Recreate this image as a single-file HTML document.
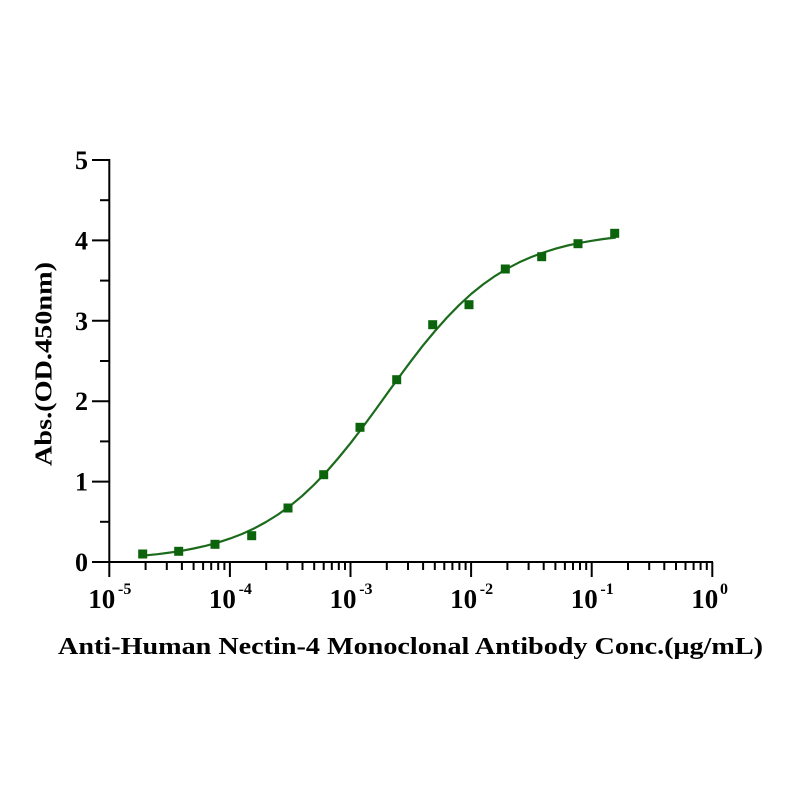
<!DOCTYPE html>
<html>
<head>
<meta charset="utf-8">
<style>
html,body{margin:0;padding:0;background:#fff;}
svg{display:block;}
text{font-family:"Liberation Serif","Times New Roman",serif;font-weight:bold;fill:#000;}
</style>
</head>
<body>
<svg width="796" height="796" viewBox="0 0 796 796" xmlns="http://www.w3.org/2000/svg">
<rect width="796" height="796" fill="#fff"/>
<!-- axes -->
<g stroke="#000" stroke-width="2" fill="none">
  <line x1="109.3" y1="159" x2="109.3" y2="563"/>
  <line x1="92" y1="562" x2="713" y2="562"/>
  <!-- y major ticks -->
  <line x1="92" y1="160" x2="109.3" y2="160"/>
  <line x1="92" y1="240.4" x2="109.3" y2="240.4"/>
  <line x1="92" y1="320.8" x2="109.3" y2="320.8"/>
  <line x1="92" y1="401.2" x2="109.3" y2="401.2"/>
  <line x1="92" y1="481.6" x2="109.3" y2="481.6"/>
  <!-- y minor ticks -->
  <line x1="100" y1="200.2" x2="109.3" y2="200.2"/>
  <line x1="100" y1="280.6" x2="109.3" y2="280.6"/>
  <line x1="100" y1="361" x2="109.3" y2="361"/>
  <line x1="100" y1="441.4" x2="109.3" y2="441.4"/>
  <line x1="100" y1="521.8" x2="109.3" y2="521.8"/>
  <!-- x major ticks -->
  <line x1="109.3" y1="562" x2="109.3" y2="577"/>
  <line x1="229.9" y1="562" x2="229.9" y2="577"/>
  <line x1="350.5" y1="562" x2="350.5" y2="577"/>
  <line x1="471.1" y1="562" x2="471.1" y2="577"/>
  <line x1="591.7" y1="562" x2="591.7" y2="577"/>
  <line x1="712.3" y1="562" x2="712.3" y2="577"/>
</g>
<g stroke="#000" stroke-width="2" fill="none" id="minor">
  <!-- decade offsets: log2..log9 * 120.6 = 36.3,57.5,72.6,84.3,93.8,101.9,108.9,115.1 -->
  <path d="M145.6 562v8M166.8 562v8M181.9 562v8M193.6 562v8M203.1 562v8M211.2 562v8M218.2 562v8M224.4 562v8
           M266.2 562v8M287.4 562v8M302.5 562v8M314.2 562v8M323.7 562v8M331.8 562v8M338.8 562v8M345 562v8
           M386.8 562v8M408 562v8M423.1 562v8M434.8 562v8M444.3 562v8M452.4 562v8M459.4 562v8M465.6 562v8
           M507.4 562v8M528.6 562v8M543.7 562v8M555.4 562v8M564.9 562v8M573 562v8M580 562v8M586.2 562v8
           M628 562v8M649.2 562v8M664.3 562v8M676 562v8M685.5 562v8M693.6 562v8M700.6 562v8M706.8 562v8"/>
</g>
<!-- y tick labels -->
<g font-size="26" text-anchor="end">
  <text x="88" y="169">5</text>
  <text x="88" y="249.4">4</text>
  <text x="88" y="329.8">3</text>
  <text x="88" y="410.2">2</text>
  <text x="88" y="490.6">1</text>
  <text x="88" y="571">0</text>
</g>
<!-- x tick labels -->
<g font-size="27">
  <text x="115.3" y="608" text-anchor="end">10</text><text x="118" y="594" font-size="16">-5</text>
  <text x="235.9" y="608" text-anchor="end">10</text><text x="238.6" y="594" font-size="16">-4</text>
  <text x="356.5" y="608" text-anchor="end">10</text><text x="359.2" y="594" font-size="16">-3</text>
  <text x="477.1" y="608" text-anchor="end">10</text><text x="479.8" y="594" font-size="16">-2</text>
  <text x="597.7" y="608" text-anchor="end">10</text><text x="600.4" y="594" font-size="16">-1</text>
  <text x="718.3" y="608" text-anchor="end">10</text><text x="720" y="594" font-size="16">0</text>
</g>
<!-- axis titles -->
<text x="58" y="654" font-size="24" textLength="705" lengthAdjust="spacingAndGlyphs">Anti-Human Nectin-4 Monoclonal Antibody Conc.(μg/mL)</text>
<text transform="translate(51.5,466) rotate(-90)" x="0" y="0" font-size="24" textLength="204" lengthAdjust="spacingAndGlyphs">Abs.(OD.450nm)</text>
<!-- fitted curve -->
<polyline fill="none" stroke="#1c6b1c" stroke-width="2.2" stroke-linejoin="round" stroke-linecap="round"
 points="142.7,555.7 157.5,554.2 169.6,552.6 181.7,550.8 193.7,548.5 205.8,545.8 217.8,542.6 229.9,538.6 242,534 254,528.5 266,522 278.1,514.5 290.2,505.8 302.3,495.8 314.3,484.5 326.4,471.9 338.4,458 350.5,443.2 362.5,427.5 374.6,411 386.6,394.3 398.7,377.6 410.8,361.3 422.9,345.6 435,331 447,317.5 459,305.2 471.1,294 483.1,284.4 495.2,275.9 507.2,268.6 519.3,262.3 531.4,257 543.5,252.5 555.5,248.7 567.6,245.5 579.6,242.9 591.7,240.8 603.4,239 615.1,237.6"/>
<!-- data points -->
<g fill="#0b630b">
  <rect x="138.2" y="549.5" width="9" height="9"/>
  <rect x="174.2" y="546.8" width="9" height="9"/>
  <rect x="210.5" y="539.8" width="9" height="9"/>
  <rect x="247.2" y="531.2" width="9" height="9"/>
  <rect x="283.5" y="503.5" width="9" height="9"/>
  <rect x="319.2" y="470.2" width="9" height="9"/>
  <rect x="355.5" y="422.8" width="9" height="9"/>
  <rect x="392.2" y="375.2" width="9" height="9"/>
  <rect x="428.2" y="320.2" width="9" height="9"/>
  <rect x="464.5" y="300.2" width="9" height="9"/>
  <rect x="500.8" y="264.5" width="9" height="9"/>
  <rect x="537.2" y="252.2" width="9" height="9"/>
  <rect x="573.5" y="239.2" width="9" height="9"/>
  <rect x="610.2" y="228.8" width="9" height="9"/>
</g>
</svg>
</body>
</html>
